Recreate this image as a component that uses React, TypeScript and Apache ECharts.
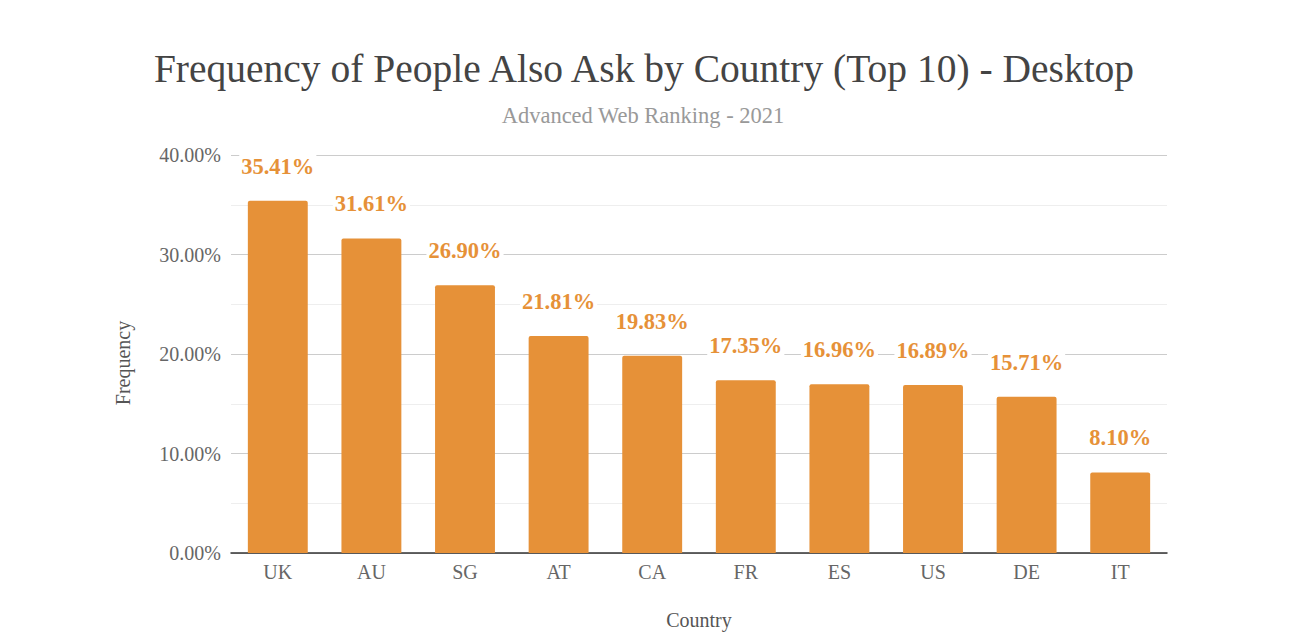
import React, { useEffect, useRef } from "react";
import * as echarts from "echarts";

const countries = ["UK", "AU", "SG", "AT", "CA", "FR", "ES", "US", "DE", "IT"];
const frequency = [35.41, 31.61, 26.9, 21.81, 19.83, 17.35, 16.96, 16.89, 15.71, 8.1];
const yTicks = [0, 10, 20, 30, 40];

const FONT = "Liberation Serif";
const ORANGE = "#e69138";

export default function App() {
  const ref = useRef<HTMLDivElement>(null);
  useEffect(() => {
    if (!ref.current) return;
    const chart = echarts.init(ref.current, undefined, { renderer: "svg" });
    chart.setOption({
      animation: false,
      backgroundColor: "#ffffff",
      textStyle: { fontFamily: FONT },
      title: [
        {
          text: "Frequency of People Also Ask by Country (Top 10) - Desktop",
          left: 639,
          top: 44,
          textAlign: "center",
          textStyle: { fontFamily: FONT, fontSize: 39.5, fontWeight: "normal", color: "#444444" },
        },
        {
          text: "Advanced Web Ranking - 2021",
          left: 638,
          top: 99,
          textAlign: "center",
          textStyle: { fontFamily: FONT, fontSize: 22.5, fontWeight: "normal", color: "#999999" },
        },
      ],
      grid: { left: 231, width: 936, top: 155, height: 404, containLabel: false },
      xAxis: {
        type: "category",
        data: countries,
        name: "Country",
        nameLocation: "middle",
        nameGap: 57,
        nameTextStyle: { fontFamily: FONT, fontSize: 20, color: "#555555" },
        axisLine: { show: true, lineStyle: { color: "#333333", width: 1.5 } },
        axisTick: { show: false },
        axisLabel: { fontFamily: FONT, fontSize: 20, color: "#666666", margin: 9 },
      },
      yAxis: {
        type: "value",
        min: yTicks[0],
        max: yTicks[yTicks.length - 1],
        interval: 10,
        name: "Frequency",
        nameLocation: "middle",
        nameGap: 98,
        nameRotate: 90,
        nameTextStyle: { fontFamily: FONT, fontSize: 20, color: "#555555", padding: [0, 18, 0, 0] },
        axisLine: { show: false },
        axisTick: { show: false },
        axisLabel: {
          fontFamily: FONT,
          fontSize: 20,
          color: "#666666",
          margin: 10,
          formatter: (v: number) => v.toFixed(2) + "%",
        },
        splitLine: { show: true, lineStyle: { color: "#cccccc", width: 1 } },
        minorTick: { show: false, splitNumber: 2 },
        minorSplitLine: { show: true, lineStyle: { color: "#eeeeee", width: 1 } },
      },
      series: [
        {
          type: "bar",
          data: frequency,
          barWidth: "64%",
          itemStyle: { color: ORANGE, borderRadius: [2, 2, 0, 0] },
          label: {
            show: true,
            position: "top",
            distance: 23,
            fontFamily: FONT,
            fontSize: 22.5,
            fontWeight: "bold",
            color: ORANGE,
            backgroundColor: "#ffffff",
            padding: [0, 2],
            formatter: (p: any) => Number(p.value).toFixed(2) + "%",
          },
        },
      ],
    });
    return () => chart.dispose();
  }, []);
  return (
    <div
      ref={ref}
      style={{ position: "fixed", left: 0, top: 0, width: 1309, height: 635 }}
    />
  );
}
